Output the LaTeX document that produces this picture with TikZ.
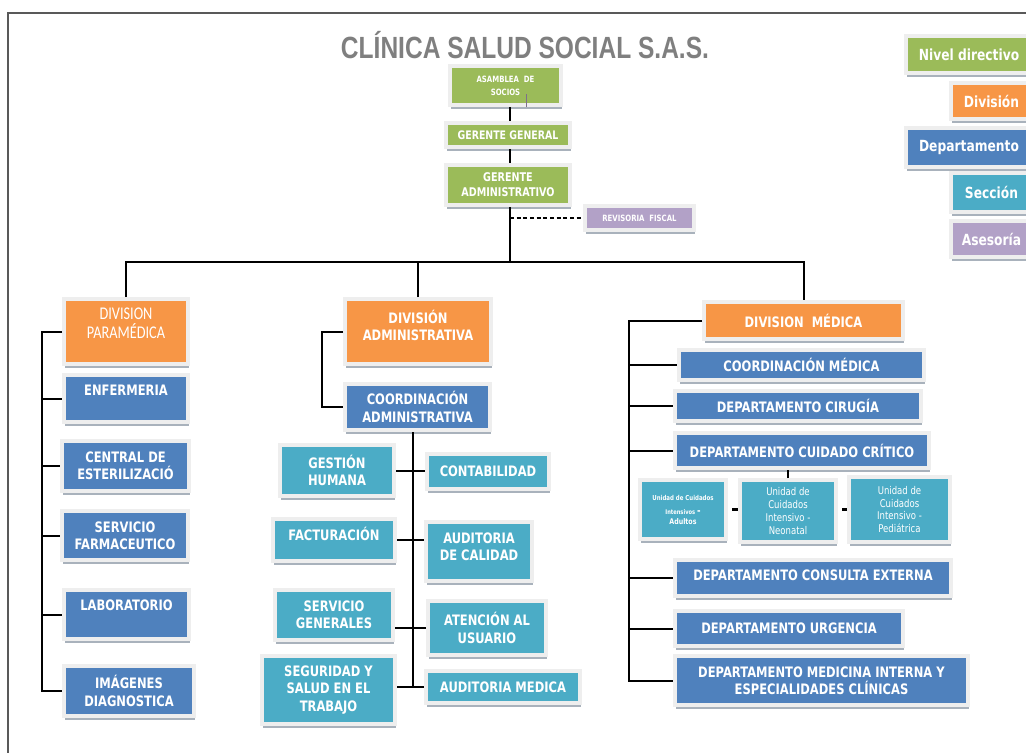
\documentclass[tikz,border=0pt]{standalone}
\usepackage{fontspec}
\setmainfont{DejaVu Sans}[FakeStretch=0.8]
\newfontfamily\titlefont{Liberation Sans}[FakeStretch=0.8]
\newfontfamily\calfont{Carlito}[FakeStretch=0.8]
\usetikzlibrary{shadows,calc}
\definecolor{cgreen}{HTML}{9BBB59}
\definecolor{corange}{HTML}{F79646}
\definecolor{cblue}{HTML}{4F81BD}
\definecolor{cteal}{HTML}{4BACC6}
\definecolor{cpurple}{HTML}{B2A1C7}
\definecolor{framec}{HTML}{EEEEEE}
\definecolor{shadowc}{HTML}{A9B2BC}
\definecolor{titlec}{HTML}{7F7F7F}
\tikzset{
  box/.style={rectangle, draw=framec, line width=3pt, inner sep=0pt,
    text=white, align=center, font=\bfseries\fontsize{10.8}{13}\selectfont,
    drop shadow={shadow xshift=0.6pt, shadow yshift=-3pt, fill=shadowc, opacity=1}},
  txt/.style={text=white, align=center, inner sep=0pt, anchor=center,
    font=\bfseries\fontsize{10.8}{13}\selectfont},
  link/.style={line width=1.5pt, black},
  dashlink/.style={line width=0.8pt, black, dash pattern=on 3pt off 2pt},
  legendtxt/.style={font=\bfseries\fontsize{11.5}{13}\selectfont},
}
% name, x1, y1, x2, y2 (pixels of the inner fill), options, text
\newcommand{\bx}[7]{%
  \pgfmathsetmacro\bxcx{(#2+#4)/2}%
  \pgfmathsetmacro\bxcy{(#3+#5)/2}%
  \pgfmathsetmacro\bxw{(#4-#2+4)*0.75}%
  \pgfmathsetmacro\bxh{(#5-#3+4)*0.75}%
  \node[box,minimum width=\bxw pt,minimum height=\bxh pt,#6] (#1) at (\bxcx,\bxcy) {#7};}
\begin{document}
\begin{tikzpicture}[x=0.75pt,y=-0.75pt]
\useasboundingbox (0,0) rectangle (1026,753);
\clip (0,0) rectangle (1026,753);
\fill[white] (0,0) rectangle (1026,753);
\draw[black!65, line width=0.9pt] (8,760) -- (8,13) -- (1030,13);

% title
\node[text=titlec, font=\titlefont\bfseries\fontsize{23}{26}\selectfont] (title) at (525,45) {CLÍNICA SALUD SOCIAL S.A.S.};

% legend
\bx{l1}{908}{38}{1030}{71}{fill=cgreen, legendtxt}{Nivel directivo}
\bx{l2}{953}{85}{1030}{117}{fill=corange, legendtxt}{División}
\bx{l3}{908}{130}{1030}{165}{fill=cblue, legendtxt}{Departamento}
\bx{l4}{953}{175}{1030}{210}{fill=cteal, legendtxt}{Sección}
\bx{l5}{953}{223}{1030}{255}{fill=cpurple, legendtxt}{Asesoría}

% top
\bx{asam}{452}{68}{559}{103}{fill=cgreen, font=\bfseries\fontsize{6.5}{9.75}\selectfont}{ASAMBLEA\ \ DE\\SOCIOS}
\bx{gg}{448}{125}{568}{145}{fill=cgreen, font=\bfseries\fontsize{8.8}{10}\selectfont}{GERENTE GENERAL}
\bx{ga}{448}{167}{568}{203}{fill=cgreen, font=\bfseries\fontsize{9}{11.25}\selectfont}{GERENTE\\ADMINISTRATIVO}
\bx{rf}{587}{208}{692}{228}{fill=cpurple, font=\bfseries\fontsize{6.5}{8}\selectfont}{REVISORIA\ \ FISCAL}
\draw[cpurple!70!black, line width=0.8pt] ([xshift=15.4pt]asam.south) -- ++(0,-13);

% divisions
\bx{dp}{66}{301}{186}{362}{fill=corange, label={[txt, font=\calfont\fontsize{13.4}{14.3}\selectfont, yshift=6pt]center:{DIVISION\\PARAMÉDICA}}}{}
\bx{da}{347}{301}{489}{362}{fill=corange, label={[txt, yshift=4.5pt]center:{DIVISIÓN\\ADMINISTRATIVA}}}{}
\bx{dm}{706}{304}{901}{337}{fill=corange}{DIVISION\ \ MÉDICA}

% paramedica column
\bx{enf}{66}{377}{186}{420}{fill=cblue, label={[txt, yshift=6pt]center:ENFERMERIA}}{}
\bx{cen}{64}{443}{187}{489}{fill=cblue}{CENTRAL DE\\ESTERILIZACIÓ}
\bx{ser}{64}{513}{186}{558}{fill=cblue}{SERVICIO\\FARMACEUTICO}
\bx{lab}{66}{592}{187}{637}{fill=cblue, label={[txt, yshift=7pt]center:LABORATORIO}}{}
\bx{img}{66}{668}{192}{714}{fill=cblue}{IMÁGENES\\DIAGNOSTICA}

% administrativa column
\bx{ca}{347}{386}{488}{428}{fill=cblue}{COORDINACIÓN\\ADMINISTRATIVA}
\bx{gh}{282}{447}{392}{494}{fill=cteal}{GESTIÓN\\HUMANA}
\bx{fac}{275}{521}{393}{559}{fill=cteal, label={[txt, yshift=4.5pt]center:FACTURACIÓN}}{}
\bx{sg}{277}{592}{391}{638}{fill=cteal}{SERVICIO\\GENERALES}
\bx{seg}{264}{658}{393}{722}{fill=cteal}{SEGURIDAD Y\\SALUD EN EL\\TRABAJO}
\bx{cont}{429}{456}{547}{487}{fill=cteal}{CONTABILIDAD}
\bx{ac}{428}{524}{530}{579}{fill=cteal, label={[txt, yshift=3.4pt]center:{AUDITORIA\\DE CALIDAD}}}{}
\bx{atn}{430}{603}{544}{653}{fill=cteal}{ATENCIÓN AL\\USUARIO}
\bx{am}{428}{673}{578}{701}{fill=cteal}{AUDITORIA MEDICA}

% medica column
\bx{cm}{681}{352}{922}{378}{fill=cblue}{COORDINACIÓN MÉDICA}
\bx{cir}{677}{393}{919}{419}{fill=cblue}{DEPARTAMENTO CIRUGÍA}
\bx{cc}{677}{435}{927}{466}{fill=cblue}{DEPARTAMENTO CUIDADO CRÍTICO}
\bx{adu}{642}{482}{724}{537}{fill=cteal, font=\bfseries\fontsize{5.1}{6}\selectfont}{Unidad de Cuidados\\[5pt]{\fontsize{4.8}{6}\selectfont Intensivos} {\fontsize{8}{6}\selectfont -}\\[1pt]{\fontsize{5.9}{7}\selectfont Adultos}}
\bx{neo}{742}{482}{834}{540}{fill=cteal, font=\fontsize{8}{9.6}\selectfont}{Unidad de\\Cuidados\\Intensivo -\\Neonatal}
\bx{ped}{851}{479}{948}{540}{fill=cteal, font=\fontsize{8}{9.6}\selectfont}{Unidad de\\Cuidados\\Intensivo -\\Pediátrica}
\bx{ce}{677}{562}{949}{594}{fill=cblue, label={[txt, yshift=2.2pt]center:DEPARTAMENTO CONSULTA EXTERNA}}{}
\bx{ur}{677}{613}{901}{644}{fill=cblue}{DEPARTAMENTO URGENCIA}
\bx{mi}{677}{658}{966}{703}{fill=cblue}{DEPARTAMENTO MEDICINA INTERNA Y\\ESPECIALIDADES CLÍNICAS}

% connectors
\coordinate (spine) at (510,0);
\coordinate (bus) at (510,262);
\draw[link] (asam.south -| spine) -- (gg.north -| spine);
\draw[link] (gg.south -| spine) -- (ga.north -| spine);
\draw[link] (ga.south -| spine) -- (bus);
\draw[dashlink] (spine |- rf.west) -- (rf.west);
\draw[link] (dp.north) |- (bus) -| (dm.north);
\draw[link] (da.north) -- (da.north |- bus);

\coordinate (pl) at (42,0);
\draw[link] (dp.west) -| (pl |- img.west) -- (img.west);
\foreach \n in {enf,cen,ser,lab} \draw[link] (pl |- \n.west) -- (\n.west);

\coordinate (pa) at (322,0);
\draw[link] (da.west) -| (pa |- ca.west) -- (ca.west);
\coordinate (tr) at (413,0);
\draw[link] (tr |- ca.south) -- (tr |- am.west);
\draw[link] (gh.east) -- (cont.west |- gh.east);
\draw[link] (fac.east) -- (ac.west |- fac.east);
\draw[link] (sg.east |- atn.west) -- (atn.west);
\draw[link] (seg.east |- am.west) -- (am.west);

\coordinate (pm) at (629,0);
\draw[link] (dm.west) -| (pm |- mi.west) -- (mi.west);
\foreach \n in {cm,cir,cc,ce,ur} \draw[link] (pm |- \n.west) -- (\n.west);
\draw[link] (neo.north) -- (neo.north |- cc.south);
\draw[link, line width=2.2pt, shorten <=3pt] (adu.east) -- (adu.east -| neo.west);
\draw[link, line width=2.2pt, shorten <=3pt] (neo.east |- adu.east) -- (adu.east -| ped.west);
\end{tikzpicture}
\end{document}
